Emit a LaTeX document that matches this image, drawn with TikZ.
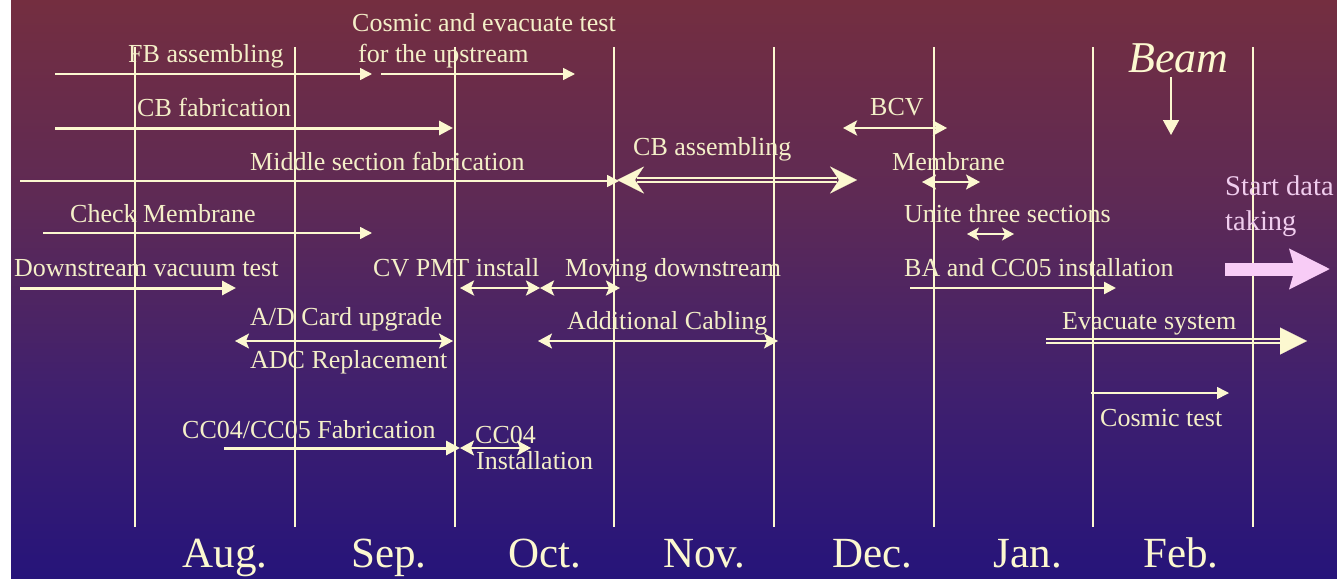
\documentclass[tikz,border=0pt]{standalone}
\usepackage{fontspec}
\setmainfont{Liberation Serif}
\usetikzlibrary{arrows.meta}
\definecolor{cr}{HTML}{FCF8D0}
\definecolor{crtext}{HTML}{F4EFC8}
\definecolor{pinkc}{HTML}{F8CCF6}
\definecolor{pinktext}{HTML}{F0CDEE}
\definecolor{bgA}{HTML}{742E40}
\definecolor{bgB}{HTML}{5E2A55}
\definecolor{bgC}{HTML}{40206E}
\definecolor{bgD}{HTML}{26147A}
\pgfdeclareverticalshading{bgsh}{100bp}{color(0bp)=(bgD); color(25bp)=(bgD); color(41.3bp)=(bgC); color(57.7bp)=(bgB); color(75bp)=(bgA); color(100bp)=(bgA)}
\begin{document}
\begin{tikzpicture}[x=1pt,y=-1pt,
  txt/.style={anchor=base west, inner sep=0pt, text=crtext, font=\fontsize{26}{30}\selectfont},
  month/.style={anchor=base, inner sep=0pt, text=cr, font=\fontsize{43}{48}\selectfont},
  vline/.style={draw=cr, line width=1.5pt},
  thinarr/.style={draw=cr, line width=1.6pt, -{Triangle[length=12pt,width=12pt]}},
  thickarr/.style={draw=cr, line width=3pt, -{Triangle[length=14pt,width=14pt]}},
  twoarr/.style={draw=cr, line width=#1, {Stealth[length=14pt,width=15pt,inset=3pt]}-{Stealth[length=14pt,width=15pt,inset=3pt]}},
  twoarr/.default=2pt,
  dblline/.style={draw=cr, line width=1.5pt},
  bigtip/.style={draw=cr, line width=0.3pt, -{Stealth[length=27pt,width=27pt,inset=9pt]}},
  bigtri/.style={draw=cr, line width=0.3pt, -{Triangle[length=27pt,width=27pt]}}
]
\useasboundingbox (0,0) rectangle (1337,578);
\fill[white] (0,0) rectangle (11,578);
\shade[shading=bgsh] (11,0) rectangle (1337,578);

% month separator lines
\foreach \x [count=\i] in {135,295,455,614,774,934,1093,1253} {
  \coordinate (t\i) at (\x,47);
  \coordinate (b\i) at (\x,527);
  \draw[vline] (t\i) -- (b\i);
}

% month labels
\node[month] (aug) at (225,567) {Aug.};
\node[month] (sep) at (389,567) {Sep.};
\node[month] (oct) at (545,567) {Oct.};
\node[month] (nov) at (704,567) {Nov.};
\node[month] (dec) at (872,567) {Dec.};
\node[month] (jan) at (1028,567) {Jan.};
\node[month] (feb) at (1181,567) {Feb.};

% texts
\node[txt] (fb) at (128,63) {FB assembling};
\node[txt] (cos1) at (352,32) {Cosmic and evacuate test};
\node[txt] (cos2) at (358,63) {for the upstream};
\node[txt] (cbf) at (137,116) {CB fabrication};
\node[txt] (mid) at (250,170) {Middle section fabrication};
\node[txt] (cba) at (633,155) {CB assembling};
\node[txt] (bcv) at (870,115) {BCV};
\node[txt] (mem) at (892,170) {Membrane};
\node[txt] (uni) at (904,222) {Unite three sections};
\node[txt] (chk) at (70,222) {Check Membrane};
\node[txt] (dvt) at (14,276) {Downstream vacuum test};
\node[txt] (cvp) at (373,276) {CV PMT install};
\node[txt] (mov) at (565,276) {Moving downstream};
\node[txt] (ba) at (904,276) {BA and CC05 installation};
\node[txt] (ad) at (250,325) {A/D Card upgrade};
\node[txt] (adc) at (250,368) {ADC Replacement};
\node[txt] (addc) at (567,329) {Additional Cabling};
\node[txt] (evs) at (1062,329) {Evacuate system};
\node[txt] (cst) at (1100,426) {Cosmic test};
\node[txt] (ccf) at (182,438) {CC04/CC05 Fabrication};
\node[txt] (cc4) at (475,443) {CC04};
\node[txt] (ins) at (476,469) {Installation};
\node[txt, text=pinktext, font=\fontsize{28.5}{32}\selectfont] (sdt1) at (1225,195) {Start data};
\node[txt, text=pinktext, font=\fontsize{28.5}{32}\selectfont] (sdt2) at (1225,230) {taking};
\node[anchor=base west, inner sep=0pt, text=cr, font=\fontsize{44}{48}\selectfont\itshape] (beam) at (1128,72) {Beam};

% arrow end points
\coordinate (fbS) at (55,74);   \coordinate (fbE) at (372,74);
\coordinate (coS) at (381,74);  \coordinate (coE) at (575,74);
\coordinate (cbS) at (55,128);  \coordinate (cbE) at (453,128);
\coordinate (miS) at (20,181);  \coordinate (miE) at (619,181);
\coordinate (caL) at (617,180); \coordinate (caR) at (857,180);
\coordinate (bcL) at (843,128); \coordinate (bcR) at (947,128);
\coordinate (meL) at (922,182); \coordinate (meR) at (980,182);
\coordinate (unL) at (967,234); \coordinate (unR) at (1014,234);
\coordinate (chS) at (43,233);  \coordinate (chE) at (372,233);
\coordinate (dvS) at (20,288);  \coordinate (dvE) at (236,288);
\coordinate (cvL) at (460,288); \coordinate (cvR) at (540,288);
\coordinate (moL) at (540,288); \coordinate (moR) at (620,288);
\coordinate (baS) at (910,288); \coordinate (baE) at (1116,288);
\coordinate (adL) at (235,341); \coordinate (adR) at (453,341);
\coordinate (acL) at (538,341); \coordinate (acR) at (778,341);
\coordinate (evS) at (1046,341); \coordinate (evE) at (1307,341);
\coordinate (ctS) at (1091,393); \coordinate (ctE) at (1229,393);
\coordinate (ccS) at (224,448); \coordinate (ccE) at (460,448);
\coordinate (c4L) at (460,448); \coordinate (c4R) at (531,448);
\coordinate (bmS) at (1171,77); \coordinate (bmE) at (1171,135);
\coordinate (pkS) at (1225,269); \coordinate (pkE) at (1330,269);

% arrows
\draw[thinarr] (fbS) -- (fbE);
\draw[thinarr, line width=1.5pt] (coS) -- (coE);
\draw[thickarr] (cbS) -- (cbE);
\draw[thinarr, line width=1.5pt] (miS) -- (miE);
% CB assembling: double line with large heads
\draw[dblline] ([shift={(20,-2.2)}]caL) -- ([shift={(-20,-2.2)}]caR);
\draw[dblline] ([shift={(20,2.2)}]caL) -- ([shift={(-20,2.2)}]caR);
\draw[bigtip] ([shift={(14,0)}]caL) -- (caL);
\draw[bigtip] ([shift={(-14,0)}]caR) -- (caR);
\draw[twoarr=2.6pt] (bcL) -- (bcR);
\draw[twoarr=1.6pt] (meL) -- (meR);
\draw[draw=cr, line width=1.5pt, {Stealth[length=12pt,width=13pt,inset=3pt]}-{Stealth[length=12pt,width=13pt,inset=3pt]}] (unL) -- (unR);
\draw[thinarr, line width=1.5pt] (chS) -- (chE);
\draw[thickarr] (dvS) -- (dvE);
\draw[twoarr=2.6pt] (cvL) -- (cvR);
\draw[twoarr=2.6pt] (moL) -- (moR);
\draw[thinarr, line width=2.4pt] (baS) -- (baE);
\draw[twoarr=1.6pt] (adL) -- (adR);
\draw[twoarr=1.6pt] (acL) -- (acR);
% Evacuate system: double line with big triangle head
\draw[dblline] ([shift={(0,-2.2)}]evS) -- ([shift={(-22,-2.2)}]evE);
\draw[dblline] ([shift={(0,2.2)}]evS) -- ([shift={(-22,2.2)}]evE);
\draw[bigtri] ([shift={(-14,0)}]evE) -- (evE);
\draw[thinarr, line width=1.5pt] (ctS) -- (ctE);
\draw[thickarr] (ccS) -- (ccE);
\draw[twoarr=2pt] (c4L) -- (c4R);
\draw[thinarr, line width=1.5pt, -{Triangle[length=15pt,width=16pt]}] (bmS) -- (bmE);
\draw[draw=pinkc, line width=13pt, -{Stealth[length=40pt,width=39pt,inset=5pt]}] (pkS) -- (pkE);
\end{tikzpicture}
\end{document}
